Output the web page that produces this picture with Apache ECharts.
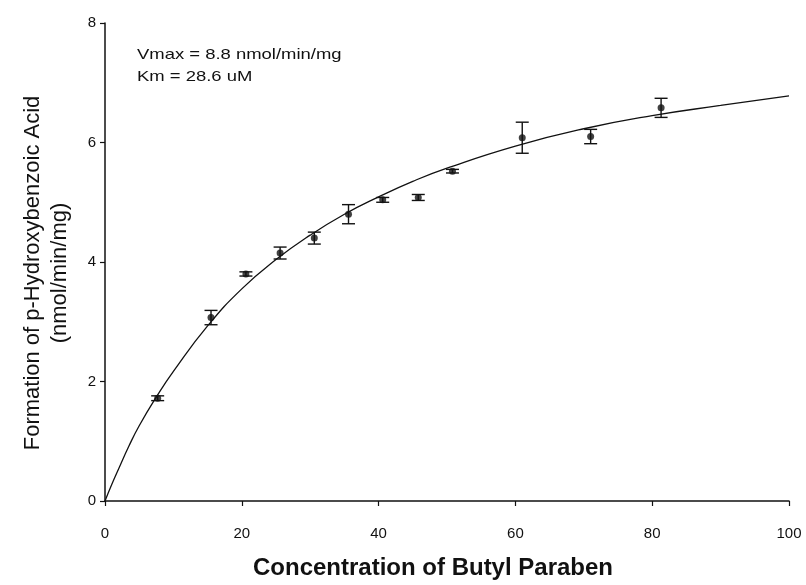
<!DOCTYPE html>
<html>
<head>
<meta charset="utf-8">
<script src="https://cdn.jsdelivr.net/npm/echarts@6/dist/echarts.min.js"></script>
<style>html,body{margin:0;padding:0;background:#fff}#c{width:806px;height:585px}</style>
</head>
<body>
<div id="c"></div>
<script>
// Measured data (concentration, rate, error)
var concX = [7.7, 15.5, 20.6, 25.6, 30.6, 35.6, 40.6, 45.8, 50.8, 61.0, 71.0, 81.3];
var rateY = [1.72, 3.07, 3.80, 4.15, 4.40, 4.80, 5.04, 5.08, 5.52, 6.08, 6.10, 6.58];
var errY  = [0.04, 0.12, 0.035, 0.10, 0.10, 0.16, 0.04, 0.05, 0.03, 0.26, 0.12, 0.16];
// Fitted curve
var fitX = [0, 1, 2, 3.5, 5, 7.5, 10, 15, 20, 25, 30, 35, 40, 45, 50, 60, 70, 80, 90, 100];
var fitY = [0, 0.28, 0.54, 0.92, 1.26, 1.74, 2.17, 2.93, 3.55, 4.04, 4.45, 4.80, 5.09, 5.35, 5.57, 5.94, 6.23, 6.45, 6.62, 6.78];
var xTicks = [0, 20, 40, 60, 80, 100];
var yTicks = [0, 2, 4, 6, 8];
var annot = ['Vmax = 8.8 nmol/min/mg', 'Km = 28.6 uM'];

var pts = concX.map(function(x, i){ return [x, rateY[i]]; });
var errs = concX.map(function(x, i){ return [x, rateY[i], errY[i]]; });
var fit = fitX.map(function(x, i){ return [x, fitY[i]]; });

var ink = '#111';
var chart = echarts.init(document.getElementById('c'));
chart.setOption({
  animation: false,
  backgroundColor: '#fff',
  grid: {left: 105, right: 17, top: 23, bottom: 84},
  xAxis: {
    type: 'value', min: 0, max: 100, interval: 20,
    name: 'Concentration of Butyl Paraben',
    nameLocation: 'middle', nameGap: 55,
    nameTextStyle: {fontFamily: 'Liberation Sans', fontWeight: 'bold', fontSize: 24, color: ink, padding: [0, 28, 0, 0]},
    axisLine: {lineStyle: {color: ink, width: 1.5}},
    axisTick: {inside: false, length: 5, lineStyle: {color: ink, width: 1.2}},
    axisLabel: {fontFamily: 'Liberation Sans', fontSize: 15, color: ink, margin: 25,
      formatter: function(v){ return xTicks.indexOf(v) >= 0 ? String(v) : ''; }},
    splitLine: {show: false}
  },
  yAxis: {
    type: 'value', min: 0, max: 8, interval: 2,
    name: 'Formation of p-Hydroxybenzoic Acid\n(nmol/min/mg)',
    nameLocation: 'middle', nameGap: 32, nameRotate: 90,
    nameTextStyle: {fontFamily: 'Liberation Sans', fontSize: 22, lineHeight: 27, color: ink, padding: [0, 22, 0, 0]},
    axisLine: {lineStyle: {color: ink, width: 1.5}},
    axisTick: {inside: false, length: 5, lineStyle: {color: ink, width: 1.2}},
    axisLabel: {fontFamily: 'Liberation Sans', fontSize: 15, color: ink, margin: 9,
      formatter: function(v){ return yTicks.indexOf(v) >= 0 ? String(v) : ''; }},
    splitLine: {show: false}
  },
  graphic: [
    {type: 'text', left: 137, top: 47, style: {text: annot[0], font: '15px "Liberation Sans"', fill: ink}, scaleX: 1.23},
    {type: 'text', left: 137, top: 69, style: {text: annot[1], font: '15px "Liberation Sans"', fill: ink}, scaleX: 1.23}
  ],
  series: [
    {type: 'line', data: fit, smooth: 0.5, showSymbol: false, symbol: 'none',
     lineStyle: {color: ink, width: 1.3}, z: 2},
    {type: 'custom', data: errs, encode: {x: 0, y: 1}, z: 3,
     renderItem: function(params, api){
       var x = api.value(0), y = api.value(1), e = api.value(2);
       var t = api.coord([x, y + e]), b = api.coord([x, y - e]);
       var hw = 6.5, st = {stroke: ink, lineWidth: 1.4};
       return {type: 'group', children: [
         {type: 'line', shape: {x1: t[0], y1: t[1], x2: b[0], y2: b[1]}, style: st},
         {type: 'line', shape: {x1: t[0] - hw, y1: t[1], x2: t[0] + hw, y2: t[1]}, style: st},
         {type: 'line', shape: {x1: b[0] - hw, y1: b[1], x2: b[0] + hw, y2: b[1]}, style: st}
       ]};
     }},
    {type: 'scatter', data: pts, symbol: 'circle', symbolSize: 7,
     itemStyle: {color: ink}, z: 4}
  ]
});
</script>
</body>
</html>
